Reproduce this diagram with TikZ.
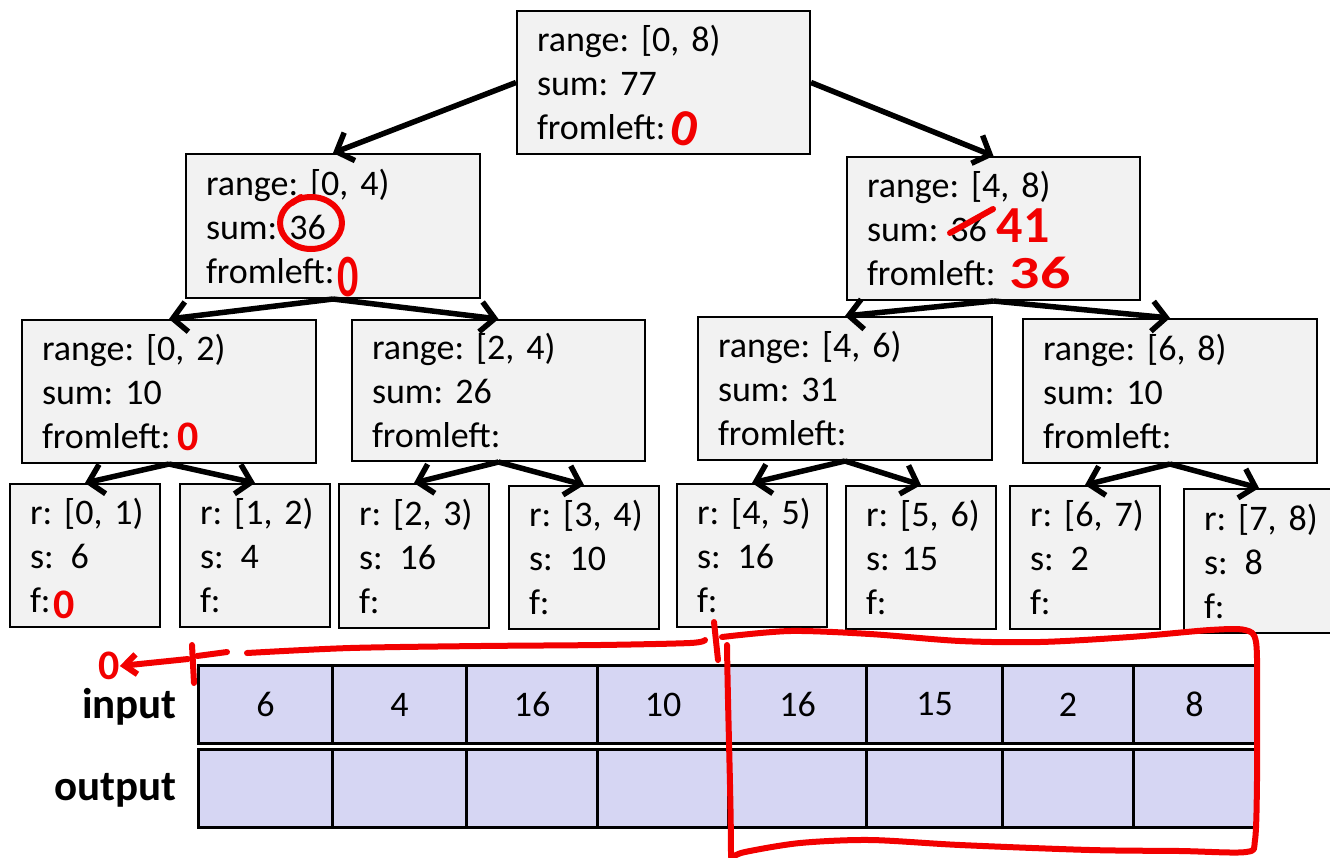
\documentclass[tikz,border=0pt]{standalone}
\usepackage{fontspec}
\usepackage{graphicx}
\setmainfont{Carlito}
\frenchspacing
\usetikzlibrary{arrows.meta}
\definecolor{boxgray}{HTML}{F2F2F2}
\definecolor{cellfill}{HTML}{D6D6F3}
\definecolor{pen}{HTML}{F20000}

\tikzset{
  treebox/.style={draw=black, fill=boxgray, line width=2pt, anchor=north west,
    align=left, inner xsep=20pt, inner ysep=0pt,
    font=\fontsize{36}{44}\selectfont\frenchspacing},
  wide/.style={text width=254pt, minimum width=294pt, minimum height=143pt},
  narrow/.style={text width=110pt, minimum width=150pt, minimum height=143pt},
  link/.style={line width=5.5pt, -{Straight Barb[length=14pt,width=30pt]}},
  cell/.style={draw=black, fill=cellfill, line width=3pt, anchor=north west,
    minimum height=78pt, inner sep=0pt, font=\fontsize{36}{44}\selectfont},
  rowlabel/.style={anchor=east, inner sep=0pt, font=\fontsize{43}{44}\selectfont\bfseries},
  redpen/.style={draw=pen, line width=6pt, line cap=round, line join=round},
  hand/.style={text=pen, inner sep=0pt, font=\fontsize{40}{40}\selectfont\bfseries},
}
\newcommand{\gap}{~\hspace{5pt}}

\begin{document}
\begin{tikzpicture}[x=1pt, y=-1pt]
\useasboundingbox (0,0) rectangle (1330,857);

% ---- reduction tree ----
\node[treebox, wide, minimum width=293pt, text width=253pt] (root) at (516,10)
  {range: [0, 8)\\ sum: 77\\ fromleft:};
\node[treebox, wide, minimum height=144pt] (lo) at (185,153)
  {range: [0, 4)\\ sum: 36\\ fromleft:};
\node[treebox, wide, minimum width=293pt, text width=253pt] (hi) at (846,156)
  {range: [4, 8)\\ sum: 36\\ fromleft:};

\node[treebox, wide] (q0) at (21,319) {range: [0, 2)\\ sum: 10\\ fromleft:};
\node[treebox, wide, minimum width=293pt, text width=253pt, minimum height=141pt] (q1) at (351,319)
  {range: [2, 4)\\ sum: 26\\ fromleft:};
\node[treebox, wide] (q2) at (697,316) {range: [4, 6)\\ sum: 31\\ fromleft:};
\node[treebox, wide, minimum height=144pt] (q3) at (1022,318) {range: [6, 8)\\ sum: 10\\ fromleft:};

\node[treebox, narrow] (e0) at (9,483)    {r:~[0,~1)\\ s:\gap 6\\ f:};
\node[treebox, narrow] (e1) at (179,483)  {r:~[1,~2)\\ s:\gap 4\\ f:};
\node[treebox, narrow, minimum height=144pt] (e2) at (338,483) {r:~[2,~3)\\ s:\gap 16\\ f:};
\node[treebox, narrow] (e3) at (508,485)  {r:~[3,~4)\\ s:\gap 10\\ f:};
\node[treebox, narrow] (e4) at (676,483)  {r:~[4,~5)\\ s:\gap 16\\ f:};
\node[treebox, narrow] (e5) at (845,485)  {r:~[5,~6)\\ s:~15\\ f:};
\node[treebox, narrow] (e6) at (1009,485) {r:~[6,~7)\\ s:\gap 2\\ f:};
\node[treebox, narrow, minimum height=144pt] (e7) at (1183,488) {r:~[7,~8)\\ s:\gap 8\\ f:};

\draw[link] (root.west) -- (lo.north);
\draw[link] (root.east) -- (hi.north);
\draw[link] (lo.south) -- (q0.north);
\draw[link] (lo.south) -- (q1.north);
\draw[link] (hi.south) -- (q2.north);
\draw[link] (hi.south) -- (q3.north);
\draw[link] (q0.south) -- (e0.north);
\draw[link] (q0.south) -- (e1.north);
\draw[link] (q1.south) -- (e2.north);
\draw[link] (q1.south) -- (e3.north);
\draw[link] (q2.south) -- (e4.north);
\draw[link] (q2.south) -- (e5.north);
\draw[link] (q3.south) -- (e6.north);
\draw[link] (q3.south) -- (e7.north);

% ---- input / output arrays ----
\foreach \i/\x/\w/\v in {1/197/134/6, 2/331/134/4, 3/465/131/16, 4/596/131/10,
                         5/727/138/16, 6/865/136/15, 7/1001/131/2, 8/1132/122/8} {
  \node[cell, minimum width=\w pt] (in\i) at (\x,664) {\v};
  \node[cell, minimum width=\w pt] (out\i) at (\x,748) {};
}
\node[rowlabel] (inlabel) at (177,707) {input};
\node[rowlabel] (outlabel) at (177,790) {output};

% ---- handwritten notes in red ----
\node[hand, font=\fontsize{52}{52}\selectfont\bfseries, rotate=-12] (rootf) at (685,129) {0};
\draw[redpen] (311,223) ellipse [x radius=31pt, y radius=26pt];
\draw[redpen] (301,197) -- (292,203);
\node[hand, font=\fontsize{60}{60}\selectfont\bfseries] (lof) at (348,277) {\scalebox{0.7}[1]{0}};
\node[hand, font=\fontsize{42}{42}\selectfont\bfseries] (q0f) at (188,437) {0};
\node[hand, font=\fontsize{42}{42}\selectfont\bfseries] (e0f) at (64,605) {0};

\draw[redpen] (950,233) -- (993,209);
\node[hand, font=\fontsize{52}{52}\selectfont\bfseries] (hisum) at (1023,226) {41};
\node[hand, font=\fontsize{46}{46}\selectfont\bfseries] (hif) at (1040,273) {\scalebox{1.3}[1]{36}};

\node[hand, font=\fontsize{42}{42}\selectfont\bfseries] (start) at (109,666) {0};
\coordinate (tick) at (188,659);
\draw[redpen, -{Straight Barb[length=12pt,width=20pt]}] (tick) -- (start.east);
\draw[redpen] (192,645) -- (194,683);
\draw[redpen] (197,656) -- (227,652);
\draw[redpen] plot[smooth] coordinates {(247,653) (350,648) (480,646) (600,645) (690,643) (705,640)};
\draw[redpen] (714,622) -- (718,660);

% bracket round the right half of the arrays
\draw[redpen] (727,645) .. controls (728,720) and (731,800) .. (731,857);
\draw[redpen] plot[smooth] coordinates {(722,637) (790,631) (870,634) (960,641)
  (1040,642) (1130,637) (1210,630) (1245,630) (1256,642) (1257,700) (1257,780)
  (1255,840) (1246,852) (1180,851) (1090,850) (960,845) (870,840) (800,843)
  (745,852) (733,857)};
\end{tikzpicture}
\end{document}
